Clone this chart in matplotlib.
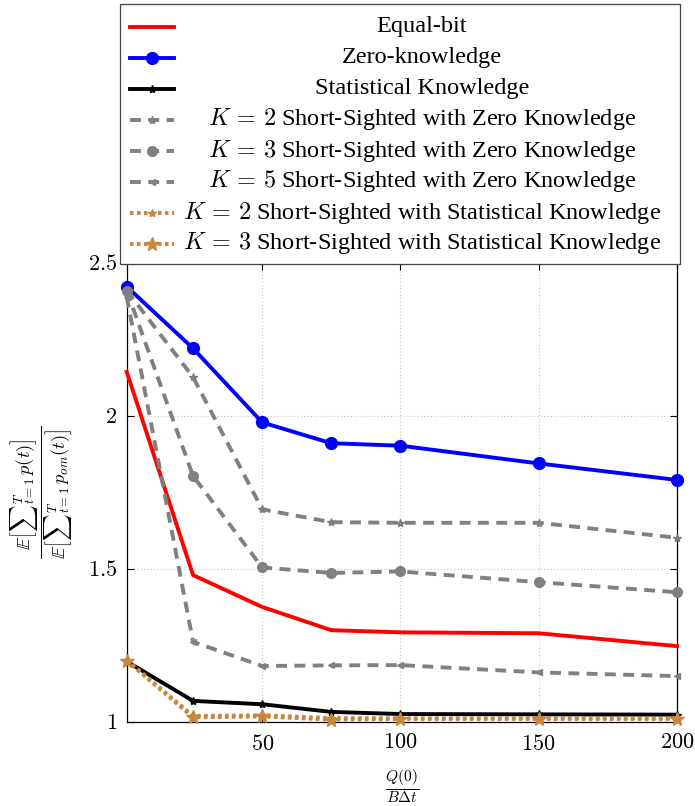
import matplotlib
matplotlib.use("Agg")
import matplotlib.pyplot as plt
from matplotlib.lines import Line2D
from matplotlib.patches import Rectangle
from matplotlib.ticker import FixedLocator, FuncFormatter

plt.rcParams['font.family'] = ['Liberation Serif', 'DejaVu Serif']
plt.rcParams['mathtext.fontset'] = 'cm'

# ---- data ----
x_vals = [1, 25, 50, 75, 100, 150, 200]
equal_bit = [2.145, 1.48, 1.376, 1.30, 1.293, 1.29, 1.248]
zero_knowledge = [2.423, 2.221, 1.979, 1.911, 1.903, 1.845, 1.791]
statistical = [1.198, 1.069, 1.058, 1.033, 1.026, 1.025, 1.024]
k2_zero = [2.41, 2.127, 1.695, 1.653, 1.651, 1.651, 1.602]
k3_zero = [2.41, 1.804, 1.505, 1.487, 1.492, 1.457, 1.424]
k5_zero = [2.39, 1.262, 1.183, 1.185, 1.186, 1.162, 1.150]
k2_stat = [1.203, 1.020, 1.022, 1.013, 1.012, 1.012, 1.012]
k3_stat = [1.200, 1.015, 1.018, 1.008, 1.010, 1.010, 1.010]

labels = ["Equal-bit", "Zero-knowledge", "Statistical Knowledge",
          r"$K\,=\,2$ Short-Sighted with Zero Knowledge",
          r"$K\,=\,3$ Short-Sighted with Zero Knowledge",
          r"$K\,=\,5$ Short-Sighted with Zero Knowledge",
          r"$K\,=\,2$ Short-Sighted with Statistical Knowledge",
          r"$K\,=\,3$ Short-Sighted with Statistical Knowledge"]
x_ticks = [50, 100, 150, 200]
y_ticks = [1, 1.5, 2, 2.5]

W, H = 695, 806
fig = plt.figure(figsize=(W / 100, H / 100), dpi=100)
L, R, T, B = 126.7, 677, 263, 722
ax = fig.add_axes([L / W, 1 - B / H, (R - L) / W, (B - T) / H])

gray = '#808080'
orange = '#c8873f'
lw = 2.8
dash = (0, (2.8, 1.9))
dot = (0, (0.9, 0.9))

styles = [
    dict(color='red', lw=lw, ls='-', marker=None),
    dict(color='blue', lw=lw, ls='-', marker='o', ms=8.5),
    dict(color='black', lw=lw, ls='-', marker='*', ms=6),
    dict(color=gray, lw=lw, ls=dash, marker='*', ms=6),
    dict(color=gray, lw=lw, ls=dash, marker='o', ms=7),
    dict(color=gray, lw=lw, ls=dash, marker='<', ms=4),
    dict(color=orange, lw=lw, ls=dot, marker='*', ms=6),
    dict(color=orange, lw=lw, ls=dot, marker='*', ms=10),
]
series = [equal_bit, zero_knowledge, statistical, k2_zero, k3_zero, k5_zero, k2_stat, k3_stat]
order = [5, 4, 3, 0, 1, 7, 6, 2]
for i in order:
    st = styles[i]
    ax.plot(x_vals, series[i], color=st['color'], lw=st['lw'], ls=st['ls'],
            marker=st['marker'], ms=st.get('ms', 0), mec=st['color'], mfc=st['color'],
            clip_on=False, zorder=3 + i * 0.1)

ax.set_xlim(1, 200)
ax.set_ylim(1, 2.5)
ax.xaxis.set_major_locator(FixedLocator(x_ticks))
ax.yaxis.set_major_locator(FixedLocator(y_ticks))
ax.xaxis.set_major_formatter(FuncFormatter(lambda v, p: r'$%g$' % v))
ax.yaxis.set_major_formatter(FuncFormatter(lambda v, p: r'$%g$' % v))
ax.tick_params(direction='in', length=5, width=0.8, labelsize=16, top=True, right=True)
ax.tick_params(axis='x', pad=9)
ax.tick_params(axis='y', pad=7)
ax.grid(True, ls=(0, (1, 2)), color='#c8c8c8', lw=0.8)
for s in ax.spines.values():
    s.set_linewidth(0.9)

xl = ax.set_xlabel(r'$\frac{Q(0)}{B\Delta t}$', fontsize=16)
xl.set_va('center')
ax.xaxis.set_label_coords(0.5, -0.1395)
ax.set_ylabel(r'$\frac{\mathbb{E}\left[{\sum}_{t=1}^{T}\, p(t)\right]}{\mathbb{E}\left[{\sum}_{t=1}^{T}\, p_{om}(t)\right]}$',
              fontsize=19, labelpad=8)

# ---- legend (manual, centered text) ----
def fx(px):
    return px / W

def fy(py):
    return 1 - py / H

box_l, box_r, box_t, box_b = 120, 680, 4, 264
fig.patches.append(Rectangle((fx(box_l), fy(box_b)), fx(box_r) - fx(box_l), fy(box_t) - fy(box_b),
                             transform=fig.transFigure, fill=True, facecolor='white',
                             edgecolor='#444444', lw=0.9, zorder=10))
row0, dy = 26.5, 31
for i, (lab, st) in enumerate(zip(labels, styles)):
    yy = fy(row0 + i * dy)
    xs = [fx(130), fx(174)]
    fig.lines.append(Line2D(xs, [yy, yy], transform=fig.transFigure, color=st['color'], lw=st['lw'],
                            ls=st['ls'], zorder=11))
    if st['marker']:
        fig.lines.append(Line2D([fx(152)], [yy], transform=fig.transFigure, color=st['color'],
                                marker=st['marker'], ms=st.get('ms', 0), ls='none', zorder=12))
    fig.text(fx(422), yy, lab, ha='center', va='center', fontsize=17.5, zorder=13)

fig.savefig('out.png', dpi=100)
